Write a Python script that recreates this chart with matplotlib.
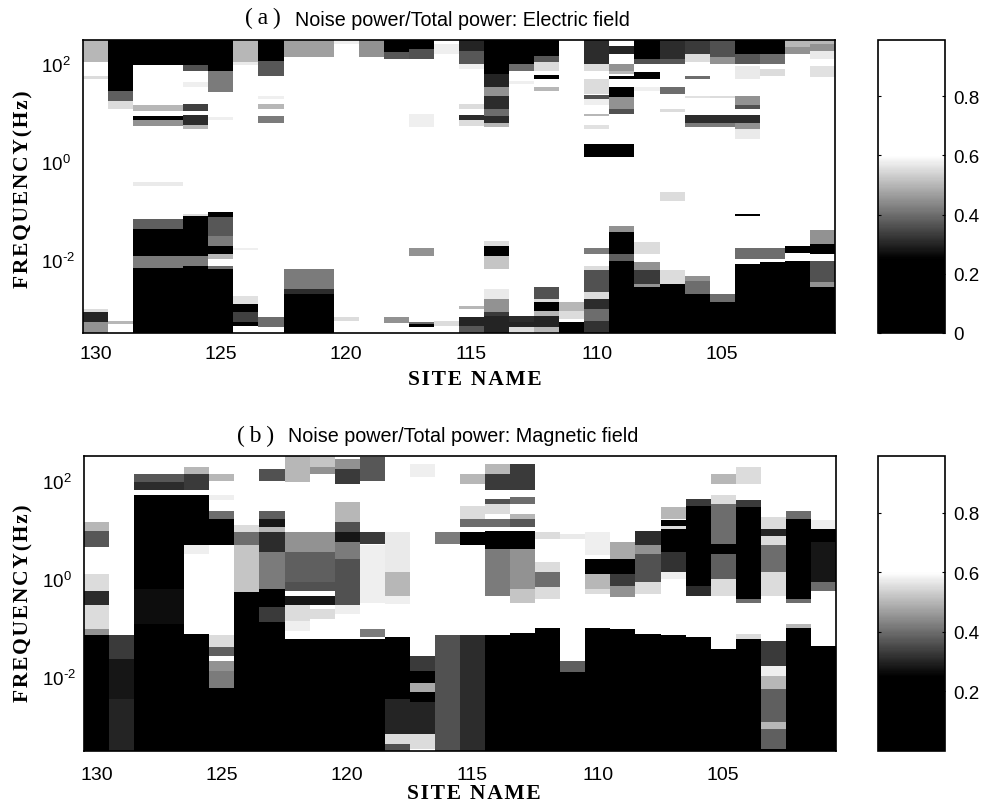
import numpy as np
import matplotlib
matplotlib.use('Agg')
import matplotlib.pyplot as plt
from matplotlib.colors import LinearSegmentedColormap

W, H = 982, 803

sites = list(range(130, 100, -1))
site_ticks = [130, 125, 120, 115, 110, 105]
freq_ticks = [1e-2, 1e0, 1e2]
freq_labels = [r'$10^{\text{-}2}$', '$10^{0}$', '$10^{2}$']
cbar_ticks_e = [0, 0.2, 0.4, 0.6, 0.8]
cbar_ticks_m = [0.2, 0.4, 0.6, 0.8]

# each band: log10(f) top, log10(f) bottom, noise/total ratio. anything not listed is white (ratio ~ 1)
e_bands = {
    130: [(2.5, 2.04, .5), (1.77, 1.70, .55), (-3.0, -3.08, .55), (-3.08, -3.27, .3), (-3.27, -3.5, .45)],
    129: [(2.5, 1.46, .08), (1.46, 1.26, .38), (1.26, 1.09, .55), (-3.25, -3.32, .5)],
    128: [(2.5, 1.99, .1), (1.16, 1.05, .5), (.95, .86, .1), (.86, .74, .45), (-.40, -.48, .57),
          (-1.17, -1.37, .38), (-1.37, -1.92, .08), (-1.92, -2.16, .42), (-2.16, -3.5, .03)],
    127: [(2.5, 1.99, .1), (1.16, 1.05, .5), (.95, .86, .1), (.86, .74, .45), (-.40, -.48, .57),
          (-1.17, -1.37, .38), (-1.37, -1.92, .08), (-1.92, -2.16, .42), (-2.16, -3.5, .03)],
    126: [(2.5, 1.99, .05), (1.99, 1.87, .36), (1.63, 1.53, .58), (1.19, 1.05, .34), (.96, .75, .31), (.75, .68, .5),
          (-1.06, -1.11, .55), (-1.11, -1.92, .05), (-1.92, -2.12, .42), (-2.12, -3.5, .03)],
    125: [(2.5, 1.87, .05), (1.87, 1.43, .42), (.92, .87, .58), (-1.02, -1.13, .1), (-1.13, -1.51, .37),
          (-1.51, -1.71, .42), (-1.71, -1.88, .1), (-1.88, -1.98, .5), (-2.12, -2.19, .4), (-2.19, -3.5, .03)],
    124: [(2.5, 2.04, .5), (2.04, 1.99, .57), (-1.75, -1.81, .58), (-2.74, -2.91, .56), (-2.91, -3.08, .08),
          (-3.08, -3.28, .34), (-3.28, -3.35, .15)],
    123: [(2.5, 2.08, .05), (2.08, 1.77, .37), (1.36, 1.29, .58), (1.19, 1.09, .5), (.94, .81, .42), (-3.18, -3.38, .4)],
    122: [(2.5, 2.15, .47), (-2.19, -2.60, .42), (-2.60, -2.70, .31), (-2.70, -3.5, .03)],
    121: [(2.5, 2.15, .47), (-2.19, -2.60, .42), (-2.60, -2.70, .31), (-2.70, -3.5, .03)],
    120: [(2.48, 2.42, .58), (-3.18, -3.25, .55)],
    119: [(2.5, 2.15, .45)],
    118: [(2.5, 2.25, .12), (2.25, 2.11, .37), (-3.18, -3.30, .45)],
    117: [(2.5, 2.32, .08), (2.32, 2.11, .36), (.98, .71, .58), (-1.75, -1.92, .45), (-3.28, -3.32, .4), (-3.32, -3.38, .05)],
    116: [(2.42, 2.21, .58), (-3.25, -3.35, .55)],
    115: [(2.5, 2.28, .3), (2.28, 2.01, .37), (2.01, 1.91, .58), (1.19, 1.09, .55), (.96, .87, .31), (.87, .74, .55),
          (-2.94, -3.01, .5), (-3.18, -3.35, .3), (-3.35, -3.5, .37)],
    114: [(2.5, 1.80, .05), (1.80, 1.53, .3), (1.53, 1.36, .45), (1.36, 1.09, .31), (1.09, .95, .4), (.95, .81, .31),
          (.81, .71, .5), (-1.61, -1.71, .55), (-1.71, -1.92, .08), (-1.92, -2.19, .52), (-2.60, -2.80, .57),
          (-2.80, -3.08, .45), (-3.08, -3.15, .33), (-3.15, -3.5, .3)],
    113: [(2.5, 2.01, .05), (2.01, 1.87, .4), (1.67, 1.60, .58), (-3.15, -3.28, .31), (-3.28, -3.38, .3), (-3.38, -3.5, .55)],
    112: [(2.5, 2.18, .05), (2.18, 2.04, .37), (2.04, 1.87, .55), (1.78, 1.70, .04), (1.53, 1.46, .5), (-2.56, -2.80, .36),
          (-2.80, -2.87, .55), (-2.87, -3.04, .05), (-3.04, -3.15, .5), (-3.15, -3.38, .3), (-3.38, -3.5, .5)],
    111: [(-2.87, -3.04, .5), (-3.04, -3.21, .55), (-3.27, -3.5, .08)],
    110: [(2.5, 2.01, .31), (2.01, 1.87, .55), (1.70, 1.39, .55), (1.37, 1.29, .36), (1.29, 1.16, .58), (.98, .94, .5),
          (.75, .68, .56), (.37, .10, .01), (-1.75, -1.88, .42), (-2.12, -2.22, .55), (-2.22, -2.67, .36),
          (-2.67, -2.80, .55), (-2.80, -3.01, .31), (-3.01, -3.25, .4), (-3.25, -3.5, .32)],
    109: [(2.38, 2.21, .3), (2.01, 1.87, .45), (1.87, 1.80, .5), (1.77, 1.70, .04), (1.53, 1.33, .05), (1.33, 1.09, .45),
          (1.09, .98, .36), (.37, .10, .01), (-1.30, -1.44, .45), (-1.44, -1.88, .05), (-1.88, -2.02, .38), (-2.02, -3.5, .02)],
    108: [(2.5, 2.11, .05), (2.11, 2.01, .36), (1.84, 1.70, .04), (1.53, 1.46, .58), (-1.64, -1.88, .55),
          (-2.05, -2.22, .45), (-2.22, -2.50, .33), (-2.50, -2.56, .45), (-2.56, -3.5, .02)],
    107: [(2.5, 2.11, .31), (2.11, 2.01, .37), (1.53, 1.39, .4), (1.09, 1.02, .55), (-.62, -.79, .55),
          (-2.22, -2.50, .55), (-2.50, -3.5, .03)],
    106: [(2.5, 2.21, .33), (2.21, 2.04, .55), (1.77, 1.70, .4), (1.36, 1.31, .56), (.96, .81, .31), (.81, .71, .42),
          (-2.33, -2.43, .45), (-2.43, -2.70, .4), (-2.70, -3.5, .03)],
    105: [(2.5, 2.15, .36), (2.15, 2.01, .45), (1.36, 1.31, .55), (.96, .81, .31), (.81, .71, .42),
          (-2.70, -2.87, .4), (-2.87, -3.5, .03)],
    104: [(2.5, 2.21, .05), (2.21, 2.01, .37), (1.97, 1.70, .57), (1.36, 1.17, .45), (1.17, 1.09, .36), (.96, .81, .31),
          (.81, .68, .45), (.68, .47, .57), (-1.06, -1.11, .05), (-1.75, -1.98, .4), (-2.09, -3.5, .03)],
    103: [(2.5, 2.21, .05), (2.21, 2.01, .4), (1.91, 1.77, .55), (-1.75, -1.98, .4), (-2.05, -3.5, .03)],
    102: [(2.5, 2.35, .5), (2.35, 2.21, .45), (-1.71, -1.86, .05), (-2.02, -3.5, .03)],
    101: [(2.5, 2.42, .5), (2.42, 2.28, .45), (2.28, 2.11, .57), (1.97, 1.74, .56), (-1.40, -1.68, .45),
          (-1.68, -1.88, .05), (-2.02, -2.46, .36), (-2.46, -2.56, .45), (-2.56, -3.5, .08)],
}

m_bands = {
    130: [(1.15, .98, .5), (.98, .65, .37), (.10, -.24, .55), (-.24, -.54, .31), (-.54, -1.02, .55),
          (-1.02, -1.15, .45), (-1.15, -3.5, .1)],
    129: [(-1.15, -1.63, .33), (-1.63, -2.45, .28), (-2.45, -3.5, .3)],
    128: [(2.14, 1.97, .37), (1.97, 1.80, .31), (1.70, -.20, .03), (-.20, -.92, .27), (-.92, -3.5, .05)],
    127: [(2.14, 1.97, .37), (1.97, 1.80, .31), (1.70, -.20, .03), (-.20, -.92, .27), (-.92, -3.5, .05)],
    126: [(2.28, 2.14, .5), (2.14, 1.80, .33), (1.70, .68, .03), (.68, .51, .58), (-1.12, -3.5, .05)],
    125: [(2.14, 2.00, .5), (1.70, 1.60, .58), (1.39, 1.22, .4), (1.22, .68, .05), (-1.15, -1.39, .55),
          (-1.39, -1.56, .38), (-1.66, -1.87, .45), (-1.87, -2.21, .42), (-2.21, -3.5, .05)],
    124: [(1.09, .95, .55), (.95, .68, .4), (.68, -.27, .52), (-.27, -3.5, .08)],
    123: [(2.24, 2.00, .36), (1.39, 1.22, .38), (1.22, 1.05, .28), (1.05, .95, .5), (.95, .54, .31), (.54, -.20, .42),
          (-.20, -.58, .1), (-.58, -.88, .33), (-.88, -3.5, .05)],
    122: [(2.5, 1.97, .5), (.95, .54, .45), (.54, -.07, .38), (-.07, -.24, .36), (-.34, -.54, .28), (-.54, -.85, .55),
          (-.85, -1.05, .58), (-1.22, -3.5, .05)],
    121: [(2.5, 2.28, .52), (2.28, 2.14, .45), (.95, .54, .45), (.54, -.07, .38), (-.07, -.24, .36), (-.34, -.54, .28),
          (-.61, -.82, .55), (-1.22, -3.5, .05)],
    120: [(2.44, 2.24, .45), (2.24, 1.94, .33), (1.56, 1.15, .5), (1.15, .95, .36), (.95, .75, .28), (.75, .41, .42),
          (.41, -.54, .36), (-.54, -.71, .58), (-1.22, -3.5, .05)],
    119: [(2.47, 2.00, .37), (.95, .71, .33), (.68, -.48, .58), (-1.02, -1.19, .42), (-1.22, -3.5, .05)],
    118: [(.95, .14, .57), (.14, -.34, .5), (-.34, -.51, .58), (-1.19, -2.45, .14), (-2.45, -3.16, .3),
          (-3.16, -3.36, .55), (-3.36, -3.5, .36)],
    117: [(2.34, 2.07, .58), (-1.56, -1.87, .33), (-1.87, -2.11, .12), (-2.11, -2.31, .48), (-2.31, -2.51, .12),
          (-2.51, -3.16, .3), (-3.16, -3.46, .55)],
    116: [(.95, .71, .42), (-1.15, -3.5, .36)],
    115: [(2.14, 1.94, .5), (1.49, 1.22, .55), (1.22, 1.05, .4), (.95, .68, .1), (-1.15, -3.5, .31)],
    114: [(2.34, 2.14, .5), (2.14, 1.80, .33), (1.63, 1.53, .36), (1.53, 1.32, .55), (1.22, 1.05, .4), (.98, .61, .1),
          (.61, -.34, .42), (-1.15, -3.5, .2)],
    113: [(2.34, 1.80, .33), (1.66, 1.53, .4), (1.32, 1.22, .5), (1.22, 1.05, .37), (.98, .61, .1), (.61, -.20, .45),
          (-.20, -.48, .52), (-1.09, -3.5, .05)],
    112: [(.95, .82, .55), (.34, .14, .55), (.14, -.17, .4), (-.17, -.41, .55), (-.99, -3.5, .05)],
    111: [(.92, .82, .57), (-1.66, -1.90, .38), (-1.90, -3.5, .05)],
    110: [(.95, .48, .58), (.41, .10, .02), (.10, -.20, .5), (-.20, -.31, .55), (-.99, -3.5, .05)],
    109: [(.75, .41, .48), (.41, .10, .02), (.10, -.14, .33), (-.14, -.37, .45), (-1.02, -3.5, .05)],
    108: [(.98, .68, .31), (.68, .51, .45), (.51, -.07, .36), (-.07, -.31, .55), (-1.12, -3.5, .05)],
    107: [(1.46, 1.22, .5), (1.19, 1.07, .15), (1.07, 1.02, .55), (1.02, .54, .03), (.54, .14, .32), (.14, 0, .58),
          (-1.15, -3.5, .05)],
    106: [(1.63, 1.49, .33), (1.49, -.14, .03), (-.14, -.34, .31), (-1.19, -3.5, .05)],
    105: [(2.14, 1.94, .5), (1.70, 1.53, .55), (1.53, .71, .4), (.71, .51, .03), (.51, 0, .38), (0, -.34, .55),
          (-1.43, -3.5, .05)],
    104: [(2.28, 1.94, .55), (1.60, 1.46, .33), (1.46, -.41, .03), (-.41, -.48, .4), (-1.12, -1.22, .55), (-1.22, -3.5, .05)],
    103: [(1.26, 1.02, .55), (1.02, .88, .3), (.88, .68, .55), (.68, .14, .4), (.14, -.34, .55), (-1.26, -1.77, .33),
          (-1.77, -1.97, .58), (-1.97, -2.24, .5), (-2.24, -2.92, .38), (-2.92, -3.06, .5), (-3.06, -3.46, .38),
          (-3.46, -3.5, .05)],
    102: [(1.39, 1.22, .4), (1.22, -.41, .03), (-.41, -.48, .4), (-.92, -.99, .5), (-.99, -3.5, .03)],
    101: [(1.19, 1.02, .58), (1.02, .75, .1), (.75, -.07, .28), (-.07, -.24, .4), (-1.36, -3.5, .03)],
}

# black up to ~.25, white from ~.6, like the paper's grey scale
vmin, vmax = 0.0, 0.99
noise_map = LinearSegmentedColormap.from_list('noise', [(0, 'black'), (.25 / vmax, 'black'), (.6 / vmax, 'white'), (1, 'white')])

plt.rcParams['font.family'] = ['Liberation Sans', 'DejaVu Sans']
plt.rcParams['mathtext.fontset'] = 'custom'
plt.rcParams['mathtext.rm'] = 'Liberation Sans'
plt.rcParams['mathtext.default'] = 'regular'


def px_axes(fig, left, top, right, bottom):
    return fig.add_axes([left / W, 1 - bottom / H, (right - left) / W, (bottom - top) / H])


def fill_grid(bands, log_edges):
    grid = np.full((len(log_edges) - 1, len(sites)), vmax)
    centers = (log_edges[:-1] + log_edges[1:]) / 2
    for j, site in enumerate(sites):
        for top, bottom, value in bands[site]:
            grid[(centers <= top) & (centers > bottom), j] = value
    return grid


def draw_panel(fig, bands, box, cbox, cbar_ticks, xpad):
    ax = px_axes(fig, *box)
    log_edges = np.linspace(-3.5, 2.5, 601)
    site_edges = np.arange(130.5, 100, -1)
    mesh = ax.pcolormesh(site_edges, 10 ** log_edges, fill_grid(bands, log_edges),
                         cmap=noise_map, vmin=vmin, vmax=vmax, shading='flat')
    ax.set_yscale('log')
    ax.set_xlim(130.5, 100.5)
    ax.set_ylim(10 ** -3.5, 10 ** 2.5)
    ax.set_xticks(site_ticks)
    ax.set_yticks(freq_ticks)
    ax.set_yticklabels(freq_labels)
    ax.minorticks_off()
    ax.tick_params(axis='x', length=0, labelsize=14, pad=xpad)
    # the paper's y labels line up on their left edge
    ax.tick_params(axis='y', length=0, labelsize=13.5, pad=30)
    for t in ax.get_yticklabels():
        t.set_horizontalalignment('left')
    for spine in ax.spines.values():
        spine.set_linewidth(1.2)

    cax = px_axes(fig, *cbox)
    cbar = fig.colorbar(mesh, cax=cax, ticks=cbar_ticks)
    cbar.ax.set_yticklabels(['0' if t == 0 else str(t) for t in cbar_ticks])
    cax.tick_params(direction='in', length=2, left=True, right=True, labelsize=13.5, pad=6)
    cbar.outline.set_linewidth(1.2)
    return ax


fig = plt.figure(figsize=(W / 100, H / 100), dpi=100, facecolor='white')

draw_panel(fig, e_bands, (83, 41, 835, 334), (878, 41, 945, 334), cbar_ticks_e, 9)
draw_panel(fig, m_bands, (84, 457, 836, 752), (878, 457, 945, 752), cbar_ticks_m, 11)

serif = ['Liberation Serif', 'DejaVu Serif']
freq_title = '\u200a'.join('FREQUENCY(Hz)')
site_title = '\u200a'.join('SITE NAME')


def label(x, y, text, va='center', **kw):
    fig.text(x / W, 1 - y / H, text, ha=kw.pop('ha', 'center'), va=va, **kw)


label(23, 189, freq_title, family=serif, weight='bold', size=15.5, rotation=90)
label(23, 603, freq_title, family=serif, weight='bold', size=15.5, rotation=90)
label(475, 385, site_title, va='baseline', family=serif, weight='bold', size=15.5)
label(474, 799, site_title, va='baseline', family=serif, weight='bold', size=15.5)

label(263, 18, '(\u2009a\u2009)', family=serif, size=17)
label(295, 20, 'Noise power/Total power: Electric field', ha='left', size=14.2)
label(256, 436, '(\u2009b\u2009)', family=serif, size=17)
label(288, 437, 'Noise power/Total power: Magnetic field', ha='left', size=14.2)

fig.savefig('out.png', dpi=100)
